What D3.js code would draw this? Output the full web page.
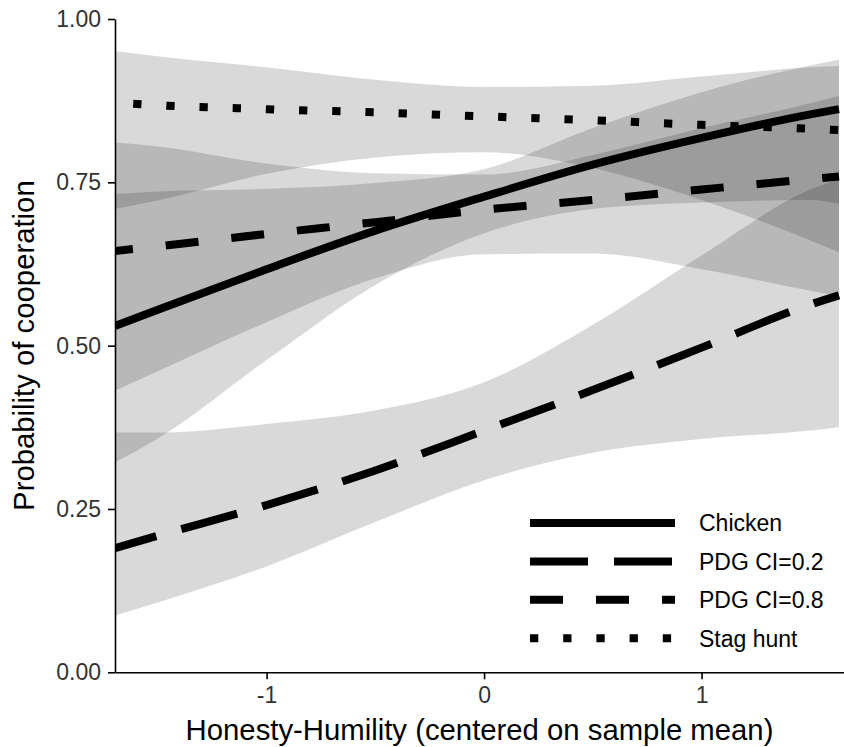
<!DOCTYPE html>
<html>
<head>
<meta charset="utf-8">
<script src="https://cdn.jsdelivr.net/npm/d3@7"></script>
<style>
  body { margin: 0; background: #fff; }
  svg text { font-family: "Liberation Sans", Arial, sans-serif; }
</style>
</head>
<body>
<div class="chart"></div>
<script>
const WIDTH = 844;
const HEIGHT = 747;

var xs = [-1.697, -1.5, -1, -0.5, 0, 0.5, 1, 1.5, 1.632];

var games = ["Chicken", "PDG CI=0.2", "PDG CI=0.8", "Stag hunt"];

var chickenFit  = [0.530, 0.555, 0.617, 0.676, 0.728, 0.777, 0.818, 0.854, 0.862];
var chickenLow  = [0.321, 0.358, 0.478, 0.593, 0.672, 0.709, 0.719, 0.723, 0.717];
var chickenHigh = [0.732, 0.736, 0.740, 0.749, 0.770, 0.833, 0.888, 0.929, 0.938];

var pdg2Fit  = [0.190, 0.209, 0.256, 0.309, 0.370, 0.432, 0.497, 0.563, 0.577];
var pdg2Low  = [0.087, 0.107, 0.162, 0.230, 0.294, 0.336, 0.357, 0.370, 0.375];
var pdg2High = [0.367, 0.367, 0.380, 0.401, 0.444, 0.532, 0.638, 0.739, 0.755];

var pdg8Fit  = [0.645, 0.652, 0.671, 0.689, 0.708, 0.723, 0.739, 0.755, 0.759];
var pdg8Low  = [0.431, 0.461, 0.536, 0.603, 0.640, 0.641, 0.617, 0.584, 0.576];
var pdg8High = [0.811, 0.805, 0.779, 0.764, 0.762, 0.792, 0.833, 0.871, 0.882];

var stagFit  = [0.872, 0.868, 0.862, 0.857, 0.851, 0.845, 0.838, 0.832, 0.830];
var stagLow  = [0.709, 0.722, 0.763, 0.788, 0.796, 0.772, 0.723, 0.661, 0.643];
var stagHigh = [0.951, 0.943, 0.926, 0.907, 0.896, 0.898, 0.912, 0.926, 0.928];

var xTicks = [-1, 0, 1];
var yTicks = [0, 0.25, 0.5, 0.75, 1];

var series = [
    { name: games[0], fit: chickenFit, low: chickenLow, high: chickenHigh, dash: null },
    { name: games[1], fit: pdg2Fit, low: pdg2Low, high: pdg2High, dash: "58,26" },
    { name: games[2], fit: pdg8Fit, low: pdg8Low, high: pdg8High, dash: "33,33" },
    { name: games[3], fit: stagFit, low: stagLow, high: stagHigh, dash: "8.3,24.9" }
];

var translate = function (x, y) {
    return "translate(" + x + "," + y + ")";
};

var svg = d3.select('.chart').append('svg')
    .attr('width', WIDTH)
    .attr('height', HEIGHT);

var x = d3.scaleLinear().domain([-1.697, 1.655]).range([115, 844]);
var y = d3.scaleLinear().domain([0, 1]).range([672.3, 19]);

svg.append("clipPath").attr("id", "panel")
    .append("rect").attr("x", 115).attr("y", 19).attr("width", 729).attr("height", 653.3);

var plot = svg.append("g").attr("clip-path", "url(#panel)");

// confidence ribbons
series.forEach(function (s) {
    var area = d3.area()
        .curve(d3.curveMonotoneX)
        .x(function (d, i) { return x(xs[i]); })
        .y0(function (d, i) { return y(s.low[i]); })
        .y1(function (d, i) { return y(s.high[i]); });
    plot.append("path")
        .attr("d", area(xs))
        .attr("fill", "#000")
        .attr("fill-opacity", 0.15);
});

// fitted lines
series.forEach(function (s) {
    var line = d3.line()
        .curve(d3.curveMonotoneX)
        .x(function (d, i) { return x(xs[i]); })
        .y(function (d, i) { return y(s.fit[i]); });
    plot.append("path")
        .attr("d", line(xs))
        .attr("fill", "none")
        .attr("stroke", "#000")
        .attr("stroke-width", 8)
        .attr("stroke-linecap", "butt")
        .attr("stroke-dasharray", s.dash)
        .attr("stroke-dashoffset", s.dash ? 15 : null);
});

// axes (plain hyphen for negatives, as in the original)
var fmtX = function (d) { return String(d); };

var yAxis = svg.append("g")
    .attr("transform", translate(115, 0))
    .call(d3.axisLeft(y).tickValues(yTicks).tickFormat(d3.format(".2f"))
        .tickSize(7).tickSizeOuter(0).tickPadding(7));

var xAxis = svg.append("g")
    .attr("transform", translate(0, 672.3))
    .call(d3.axisBottom(x).tickValues(xTicks).tickFormat(fmtX)
        .tickSize(7).tickSizeOuter(0).tickPadding(7));

[yAxis, xAxis].forEach(function (g) {
    g.select(".domain").attr("stroke", "#000").attr("stroke-width", 1.6);
    g.selectAll(".tick line").attr("stroke", "#000").attr("stroke-width", 1.6);
    g.selectAll(".tick text")
        .attr("fill", "#333")
        .style("font-size", "23px")
        .style("font-family", '"Liberation Sans", Arial, sans-serif');
});

svg.append("text")
    .attr("x", 479.5)
    .attr("y", 740)
    .attr("text-anchor", "middle")
    .style("font-size", "29.3px")
    .text("Honesty-Humility (centered on sample mean)");

svg.append("text")
    .attr("transform", translate(34, 345.6) + " rotate(-90)")
    .attr("text-anchor", "middle")
    .style("font-size", "29.3px")
    .text("Probability of cooperation");

// legend
var legend = svg.append("g");
var rowY = d3.scalePoint().domain(games).range([523, 638.3]);

series.forEach(function (s) {
    var yy = rowY(s.name);
    legend.append("line")
        .attr("x1", 530).attr("x2", 675)
        .attr("y1", yy).attr("y2", yy)
        .attr("stroke", "#000")
        .attr("stroke-width", 8)
        .attr("stroke-dasharray", s.dash);
    legend.append("text")
        .attr("x", 699)
        .attr("y", yy + 8.2)
        .style("font-size", "23px")
        .text(s.name);
});
</script>
</body>
</html>
